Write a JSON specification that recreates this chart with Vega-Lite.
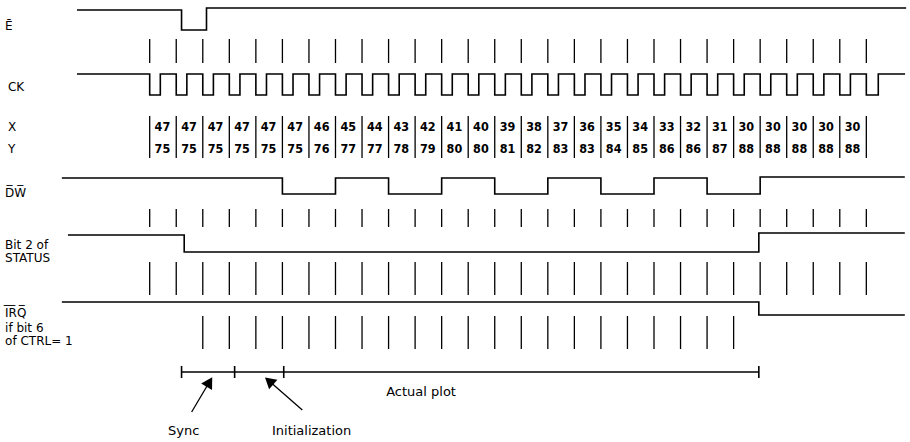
{
  "$schema": "https://vega.github.io/schema/vega-lite/v6.json",
  "width": 910,
  "height": 442,
  "autosize": {"type": "fit", "contains": "padding"},
  "padding": 0,
  "background": "white",
  "config": {"view": {"stroke": null}},
  "datasets": {
    "wave": [
      {"s": "E", "t": -2.74, "y": 10}, {"s": "E", "t": 1.2, "y": 30}, {"s": "E", "t": 2.14, "y": 8}, {"s": "E", "t": 28.5, "y": 8},
      {"s": "CK", "t": -2.74, "y": 74},
      {"s": "CK", "t": 0, "y": 95}, {"s": "CK", "t": 0.4, "y": 74},
      {"s": "CK", "t": 1, "y": 95}, {"s": "CK", "t": 1.4, "y": 74},
      {"s": "CK", "t": 2, "y": 95}, {"s": "CK", "t": 2.4, "y": 74},
      {"s": "CK", "t": 3, "y": 95}, {"s": "CK", "t": 3.4, "y": 74},
      {"s": "CK", "t": 4, "y": 95}, {"s": "CK", "t": 4.4, "y": 74},
      {"s": "CK", "t": 5, "y": 95}, {"s": "CK", "t": 5.4, "y": 74},
      {"s": "CK", "t": 6, "y": 95}, {"s": "CK", "t": 6.4, "y": 74},
      {"s": "CK", "t": 7, "y": 95}, {"s": "CK", "t": 7.4, "y": 74},
      {"s": "CK", "t": 8, "y": 95}, {"s": "CK", "t": 8.4, "y": 74},
      {"s": "CK", "t": 9, "y": 95}, {"s": "CK", "t": 9.4, "y": 74},
      {"s": "CK", "t": 10, "y": 95}, {"s": "CK", "t": 10.4, "y": 74},
      {"s": "CK", "t": 11, "y": 95}, {"s": "CK", "t": 11.4, "y": 74},
      {"s": "CK", "t": 12, "y": 95}, {"s": "CK", "t": 12.4, "y": 74},
      {"s": "CK", "t": 13, "y": 95}, {"s": "CK", "t": 13.4, "y": 74},
      {"s": "CK", "t": 14, "y": 95}, {"s": "CK", "t": 14.4, "y": 74},
      {"s": "CK", "t": 15, "y": 95}, {"s": "CK", "t": 15.4, "y": 74},
      {"s": "CK", "t": 16, "y": 95}, {"s": "CK", "t": 16.4, "y": 74},
      {"s": "CK", "t": 17, "y": 95}, {"s": "CK", "t": 17.4, "y": 74},
      {"s": "CK", "t": 18, "y": 95}, {"s": "CK", "t": 18.4, "y": 74},
      {"s": "CK", "t": 19, "y": 95}, {"s": "CK", "t": 19.4, "y": 74},
      {"s": "CK", "t": 20, "y": 95}, {"s": "CK", "t": 20.4, "y": 74},
      {"s": "CK", "t": 21, "y": 95}, {"s": "CK", "t": 21.4, "y": 74},
      {"s": "CK", "t": 22, "y": 95}, {"s": "CK", "t": 22.4, "y": 74},
      {"s": "CK", "t": 23, "y": 95}, {"s": "CK", "t": 23.4, "y": 74},
      {"s": "CK", "t": 24, "y": 95}, {"s": "CK", "t": 24.4, "y": 74},
      {"s": "CK", "t": 25, "y": 95}, {"s": "CK", "t": 25.4, "y": 74},
      {"s": "CK", "t": 26, "y": 95}, {"s": "CK", "t": 26.4, "y": 74},
      {"s": "CK", "t": 27, "y": 95}, {"s": "CK", "t": 27.45, "y": 74},
      {"s": "CK", "t": 28.46, "y": 74},
      {"s": "DW", "t": -3.31, "y": 178}, {"s": "DW", "t": 5, "y": 194}, {"s": "DW", "t": 7, "y": 178}, {"s": "DW", "t": 9, "y": 194},
      {"s": "DW", "t": 11, "y": 178}, {"s": "DW", "t": 13, "y": 194}, {"s": "DW", "t": 15, "y": 178}, {"s": "DW", "t": 17, "y": 194},
      {"s": "DW", "t": 19, "y": 178}, {"s": "DW", "t": 21, "y": 194}, {"s": "DW", "t": 23, "y": 177}, {"s": "DW", "t": 28.45, "y": 177},
      {"s": "B2", "t": -3.08, "y": 235}, {"s": "B2", "t": 1.3, "y": 252}, {"s": "B2", "t": 22.95, "y": 233}, {"s": "B2", "t": 28.45, "y": 233},
      {"s": "IRQ", "t": -3.31, "y": 302}, {"s": "IRQ", "t": 22.95, "y": 315}, {"s": "IRQ", "t": 28.45, "y": 315},
      {"s": "PLOT", "t": 1.2, "y": 372}, {"s": "PLOT", "t": 22.95, "y": 372}
    ],
    "ticks": [
      {"t": 0}, {"t": 1}, {"t": 2}, {"t": 3}, {"t": 4}, {"t": 5}, {"t": 6}, {"t": 7}, {"t": 8}, {"t": 9},
      {"t": 10}, {"t": 11}, {"t": 12}, {"t": 13}, {"t": 14}, {"t": 15}, {"t": 16}, {"t": 17}, {"t": 18}, {"t": 19},
      {"t": 20}, {"t": 21}, {"t": 22}, {"t": 23}, {"t": 24}, {"t": 25}, {"t": 26}, {"t": 27}
    ],
    "markers": [{"t": 1.2}, {"t": 3.2}, {"t": 5.05}, {"t": 22.95}],
    "cells": [
      {"t": 0.48, "xv": 47, "yv": 75}, {"t": 1.48, "xv": 47, "yv": 75}, {"t": 2.48, "xv": 47, "yv": 75},
      {"t": 3.48, "xv": 47, "yv": 75}, {"t": 4.48, "xv": 47, "yv": 75}, {"t": 5.48, "xv": 47, "yv": 75},
      {"t": 6.48, "xv": 46, "yv": 76}, {"t": 7.48, "xv": 45, "yv": 77}, {"t": 8.48, "xv": 44, "yv": 77},
      {"t": 9.48, "xv": 43, "yv": 78}, {"t": 10.48, "xv": 42, "yv": 79}, {"t": 11.48, "xv": 41, "yv": 80},
      {"t": 12.48, "xv": 40, "yv": 80}, {"t": 13.48, "xv": 39, "yv": 81}, {"t": 14.48, "xv": 38, "yv": 82},
      {"t": 15.48, "xv": 37, "yv": 83}, {"t": 16.48, "xv": 36, "yv": 83}, {"t": 17.48, "xv": 35, "yv": 84},
      {"t": 18.48, "xv": 34, "yv": 85}, {"t": 19.48, "xv": 33, "yv": 86}, {"t": 20.48, "xv": 32, "yv": 86},
      {"t": 21.48, "xv": 31, "yv": 87}, {"t": 22.48, "xv": 30, "yv": 88}, {"t": 23.48, "xv": 30, "yv": 88},
      {"t": 24.48, "xv": 30, "yv": 88}, {"t": 25.48, "xv": 30, "yv": 88}, {"t": 26.48, "xv": 30, "yv": 88}
    ],
    "labels": [
      {"label": "\u0112", "t": -5.45, "y": 26},
      {"label": "CK", "t": -5.34, "y": 87},
      {"label": "X", "t": -5.34, "y": 127},
      {"label": "Y", "t": -5.34, "y": 149},
      {"label": "D\u0305W\u0305", "t": -5.45, "y": 193},
      {"label": "Bit 2 of", "t": -5.45, "y": 245},
      {"label": "STATUS", "t": -5.45, "y": 258},
      {"label": "I\u0305R\u0305Q\u0305", "t": -5.45, "y": 313},
      {"label": "if bit 6", "t": -5.45, "y": 328},
      {"label": "of CTRL= 1", "t": -5.45, "y": 341}
    ],
    "notes": [
      {"label": "Actual plot", "t": 8.91, "y": 392, "al": "left"},
      {"label": "Sync", "t": 1.28, "y": 431, "al": "center"},
      {"label": "Initialization", "t": 6.1, "y": 431, "al": "center"}
    ],
    "arrows": [
      {"a": "sync", "t": 1.58, "y": 412}, {"a": "sync", "t": 2.25, "y": 382},
      {"a": "init", "t": 5.75, "y": 410}, {"a": "init", "t": 4.5, "y": 381}
    ],
    "heads": [
      {"a": "sync", "t": 2.25, "y": 382},
      {"a": "init", "t": 4.5, "y": 381}
    ]
  },
  "layer": [
    {
      "data": {"name": "wave"},
      "mark": {"type": "line", "interpolate": "step-after", "color": "black", "strokeWidth": 1.6},
      "encoding": {
        "x": {"field": "t", "type": "quantitative", "scale": {"domain": [-5.64, 28.57], "nice": false, "zero": false}, "axis": null},
        "y": {"field": "y", "type": "quantitative", "scale": {"domain": [0, 442], "reverse": true, "nice": false, "zero": false}, "axis": null},
        "detail": {"field": "s", "type": "nominal"}
      }
    },
    {
      "data": {"name": "ticks"},
      "mark": {"type": "rule", "color": "black", "strokeWidth": 1.3},
      "encoding": {"x": {"field": "t", "type": "quantitative"}, "y": {"datum": 39}, "y2": {"datum": 63}}
    },
    {
      "data": {"name": "ticks"},
      "mark": {"type": "rule", "color": "black", "strokeWidth": 1.3},
      "encoding": {"x": {"field": "t", "type": "quantitative"}, "y": {"datum": 116}, "y2": {"datum": 158}}
    },
    {
      "data": {"name": "ticks"},
      "mark": {"type": "rule", "color": "black", "strokeWidth": 1.3},
      "encoding": {"x": {"field": "t", "type": "quantitative"}, "y": {"datum": 209}, "y2": {"datum": 227}}
    },
    {
      "data": {"name": "ticks"},
      "mark": {"type": "rule", "color": "black", "strokeWidth": 1.3},
      "encoding": {"x": {"field": "t", "type": "quantitative"}, "y": {"datum": 262}, "y2": {"datum": 295}}
    },
    {
      "data": {"name": "ticks"},
      "transform": [{"filter": "datum.t >= 2 && datum.t <= 22"}],
      "mark": {"type": "rule", "color": "black", "strokeWidth": 1.3},
      "encoding": {"x": {"field": "t", "type": "quantitative"}, "y": {"datum": 316}, "y2": {"datum": 349}}
    },
    {
      "data": {"name": "markers"},
      "mark": {"type": "rule", "color": "black", "strokeWidth": 1.6},
      "encoding": {"x": {"field": "t", "type": "quantitative"}, "y": {"datum": 366}, "y2": {"datum": 378}}
    },
    {
      "data": {"name": "cells"},
      "mark": {"type": "text", "font": "DejaVu Sans Condensed, sans-serif", "fontWeight": "bold", "fontSize": 12.5, "align": "center", "baseline": "middle", "color": "black"},
      "encoding": {"x": {"field": "t", "type": "quantitative"}, "y": {"datum": 127}, "text": {"field": "xv", "type": "nominal"}}
    },
    {
      "data": {"name": "cells"},
      "mark": {"type": "text", "font": "DejaVu Sans Condensed, sans-serif", "fontWeight": "bold", "fontSize": 12.5, "align": "center", "baseline": "middle", "color": "black"},
      "encoding": {"x": {"field": "t", "type": "quantitative"}, "y": {"datum": 149}, "text": {"field": "yv", "type": "nominal"}}
    },
    {
      "data": {"name": "labels"},
      "mark": {"type": "text", "font": "DejaVu Sans, sans-serif", "fontSize": 12, "align": "left", "baseline": "middle", "color": "black"},
      "encoding": {"x": {"field": "t", "type": "quantitative"}, "y": {"field": "y", "type": "quantitative"}, "text": {"field": "label", "type": "nominal"}}
    },
    {
      "data": {"name": "notes"},
      "transform": [{"filter": "datum.al == 'left'"}],
      "mark": {"type": "text", "font": "DejaVu Sans, sans-serif", "fontSize": 13, "align": "left", "baseline": "middle", "color": "black"},
      "encoding": {"x": {"field": "t", "type": "quantitative"}, "y": {"field": "y", "type": "quantitative"}, "text": {"field": "label", "type": "nominal"}}
    },
    {
      "data": {"name": "notes"},
      "transform": [{"filter": "datum.al == 'center'"}],
      "mark": {"type": "text", "font": "DejaVu Sans, sans-serif", "fontSize": 13, "align": "center", "baseline": "middle", "color": "black"},
      "encoding": {"x": {"field": "t", "type": "quantitative"}, "y": {"field": "y", "type": "quantitative"}, "text": {"field": "label", "type": "nominal"}}
    },
    {
      "data": {"name": "arrows"},
      "mark": {"type": "line", "color": "black", "strokeWidth": 1.3},
      "encoding": {"x": {"field": "t", "type": "quantitative"}, "y": {"field": "y", "type": "quantitative"}, "detail": {"field": "a", "type": "nominal"}}
    },
    {
      "data": {"name": "heads"},
      "transform": [{"filter": "datum.a == 'sync'"}],
      "mark": {"type": "point", "shape": "triangle-up", "filled": true, "color": "black", "size": 160, "angle": 31, "opacity": 1},
      "encoding": {"x": {"field": "t", "type": "quantitative"}, "y": {"field": "y", "type": "quantitative"}}
    },
    {
      "data": {"name": "heads"},
      "transform": [{"filter": "datum.a == 'init'"}],
      "mark": {"type": "point", "shape": "triangle-up", "filled": true, "color": "black", "size": 160, "angle": 311, "opacity": 1},
      "encoding": {"x": {"field": "t", "type": "quantitative"}, "y": {"field": "y", "type": "quantitative"}}
    }
  ]
}
